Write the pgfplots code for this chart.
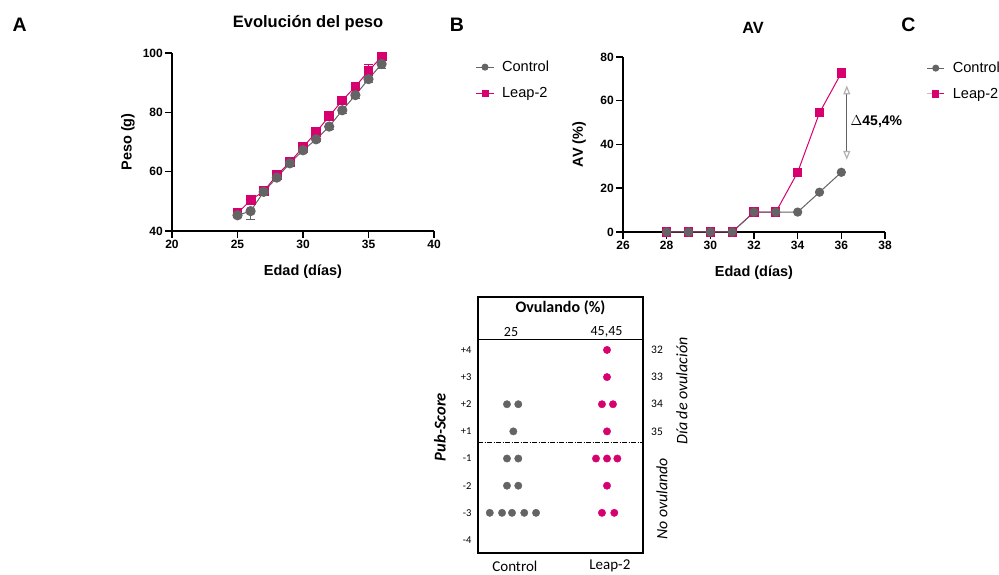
\documentclass[border=0pt]{standalone}
\usepackage{fontspec}
\setmainfont{Liberation Sans}
\newfontfamily\carl{Carlito}
\usepackage{pgfplots}
\usepackage{pgfplotstable}
\pgfplotsset{compat=1.18}
\usetikzlibrary{arrows.meta}
\definecolor{mag}{RGB}{214,0,111}
\definecolor{gry}{RGB}{100,100,100}

\pgfplotstableread{
x ctrl ectrl leap eleap
25 45.3 0.5 46.0 0.5
26 46.7 2.7 50.4 0.6
27 53.2 0.5 53.4 0.5
28 58.0 0.6 58.8 0.6
29 62.8 0.6 63.2 0.6
30 67.2 0.6 68.2 0.7
31 70.9 0.7 73.3 0.9
32 75.2 0.8 78.7 1.0
33 80.7 1.0 84.0 1.2
34 85.8 1.1 88.7 1.6
35 91.2 1.2 93.9 2.2
36 96.3 1.5 98.8 0.8
}\peso

\pgfplotstableread{
x ctrl leap
28 0 0
29 0 0
30 0 0
31 0 0
32 9.1 9.1
33 9.1 9.1
34 9.1 27.3
35 18.2 54.5
36 27.3 72.7
}\av

\pgfplotsset{
  gp/.style={
    scale only axis,
    axis lines=left,
    axis line style={line width=1.5pt,-},
    tick style={line width=1.5pt,black},
    major tick length=7pt,
    tick align=outside,
    /pgf/number format/assume math mode=true,
    ticklabel style={font=\fontsize{12}{13}\selectfont\bfseries},
    xticklabel style={inner sep=1.5pt},
    yticklabel style={inner sep=2pt},
    every axis x label/.style={at={([yshift=-41pt]axis description cs:0.5,0)},anchor=center,font=\fontsize{14.5}{16}\selectfont\bfseries},
    every axis y label/.style={at={([xshift=-44pt]axis description cs:0,0.5)},rotate=90,anchor=center,font=\fontsize{14.5}{16}\selectfont\bfseries},
    legend style={draw=none,fill=none,font=\fontsize{14.6}{16}\selectfont,row sep=10pt,column sep=6pt,anchor=north west},
    legend image post style={mark size=3pt},
    legend cell align=left,
    reverse legend,
    clip=false,
  },
  ctrlst/.style={gry,line width=1pt,mark=*,mark size=4.6pt,mark options={solid,fill=gry,draw=gry}},
  leapst/.style={mag,line width=1pt,mark=square*,mark size=4.4pt,mark options={solid,fill=mag,draw=mag}},
}

\begin{document}
\begin{tikzpicture}[x=1pt,y=1pt]
\useasboundingbox (0,0) rectangle (999,574);

% panel letters and titles
\node[font=\fontsize{19.5}{22}\selectfont\bfseries] at (19.7,549) {A};
\node[font=\fontsize{19.5}{22}\selectfont\bfseries] at (457,549.5) {B};
\node[font=\fontsize{19.5}{22}\selectfont\bfseries] at (908.5,549.3) {C};
\node[font=\fontsize{16.5}{18}\selectfont\bfseries] at (308,551) {Evolución del peso};
\node[font=\fontsize{16.3}{18}\selectfont\bfseries] at (753,546.5) {AV};

% ---- Panel A ----
\begin{axis}[gp, at={(172pt,343pt)}, anchor=south west, width=262pt, height=178pt,
  xmin=20, xmax=40, ymin=40, ymax=100,
  xtick={20,25,30,35,40}, ytick={40,60,80,100},
  xlabel={Edad (días)}, ylabel={Peso (g)},
  legend style={at={(1.148,0.978)}}]
\addplot[leapst, error bars/.cd, y dir=plus, y explicit, error bar style={mag,line width=1pt,solid}]
  table[x=x,y=leap,y error=eleap]{\peso};
\addlegendentry{Leap-2}
\addplot[ctrlst, error bars/.cd, y dir=minus, y explicit, error bar style={gry,line width=1pt,solid}]
  table[x=x,y=ctrl,y error=ectrl]{\peso};
\addlegendentry{Control}
\end{axis}

% ---- Panel B ----
\begin{axis}[gp, at={(623pt,342pt)}, anchor=south west, width=262pt, height=175pt,
  xmin=26, xmax=38, ymin=0, ymax=80,
  xtick={26,28,30,32,34,36,38}, ytick={0,20,40,60,80},
  xlabel={Edad (días)}, ylabel={AV (\%)},
  legend style={at={(1.147,0.995)}}]
\addplot[leapst, mark size=4.1pt] table[x=x,y=leap]{\av};
\addlegendentry{Leap-2}
\addplot[ctrlst, mark size=4.1pt] table[x=x,y=ctrl]{\av};
\addlegendentry{Control}
\draw[gry, line width=1.2pt, {Triangle[open,length=9pt,width=7pt,color=gray!60,fill=white]}-{Triangle[open,length=9pt,width=7pt,color=gray!60,fill=white]}]
  (axis cs:36.25,67) -- (axis cs:36.25,33);
\node[anchor=west, inner sep=0pt, font=\fontsize{14}{16}\selectfont] at (axis cs:36.42,50.3) {$\Delta$\textbf{45,4\%}};
\end{axis}

% ---- Bottom panel ----
\begin{axis}[scale only axis, at={(478pt,21pt)}, anchor=south west, width=165pt, height=256pt,
  xmin=0.642, xmax=2.379, ymin=-0.48, ymax=8.95,
  axis line style={line width=1.6pt},
  xtick=\empty, ytick={0,1,2,3,4,5,6,7},
  yticklabels={-4,-3,-2,-1,+1,+2,+3,+4},
  major tick length=0pt,
  yticklabel style={font=\carl\fontsize{10.5}{12}\selectfont, xshift=-3pt},
  clip=false]
\draw[black, line width=0.9pt] (axis cs:0.642,7.37) -- (axis cs:2.379,7.37);
\draw[black, line width=0.9pt, dash pattern=on 5pt off 1.5pt on 1pt off 1.5pt] (axis cs:0.642,3.574) -- (axis cs:2.379,3.574);
\addplot[only marks, mark=*, mark size=3.7pt, mark options={fill=gry,draw=gry}] coordinates {
  (0.947,5) (1.066,5)
  (1.014,4)
  (0.947,3) (1.066,3)
  (0.947,2) (1.066,2)
  (0.766,1) (0.895,1) (1.0,1) (1.129,1) (1.253,1)
};
\addplot[only marks, mark=*, mark size=3.7pt, mark options={fill=mag,draw=mag}] coordinates {
  (2.0,7)
  (2.0,6)
  (1.947,5) (2.063,5)
  (2.0,4)
  (1.884,3) (2.0,3) (2.109,3)
  (2.0,2)
  (1.947,1) (2.077,1)
};
\node[font=\carl\fontsize{16}{18}\selectfont\bfseries] at (axis cs:1.51,8.55) {Ovulando (\%)};
\node[font=\carl\fontsize{14}{16}\selectfont] at (axis cs:0.99,7.67) {25};
\node[font=\carl\fontsize{14}{16}\selectfont] at (axis cs:1.995,7.67) {45,45};
\node[anchor=west, inner sep=0pt, font=\carl\fontsize{11.5}{13}\selectfont] at (axis cs:2.463,7) {32};
\node[anchor=west, inner sep=0pt, font=\carl\fontsize{11.5}{13}\selectfont] at (axis cs:2.463,6) {33};
\node[anchor=west, inner sep=0pt, font=\carl\fontsize{11.5}{13}\selectfont] at (axis cs:2.463,5) {34};
\node[anchor=west, inner sep=0pt, font=\carl\fontsize{11.5}{13}\selectfont] at (axis cs:2.463,4) {35};
\node[rotate=90, font=\carl\fontsize{16}{18}\selectfont\itshape] at (axis cs:2.789,5.49) {Día de ovulación};
\node[rotate=90, font=\carl\fontsize{15.8}{18}\selectfont\itshape] at (axis cs:2.579,1.51) {No ovulando};
\node[rotate=90, font=\carl\fontsize{16.5}{18}\selectfont\bfseries\itshape] at (axis cs:0.242,4.16) {Pub-Score};
\node[font=\carl\fontsize{15}{17}\selectfont] at (axis cs:1.03,-0.96) {Control};
\node[font=\carl\fontsize{15}{17}\selectfont] at (axis cs:2.03,-0.96) {Leap-2};
\end{axis}
\end{tikzpicture}
\end{document}
